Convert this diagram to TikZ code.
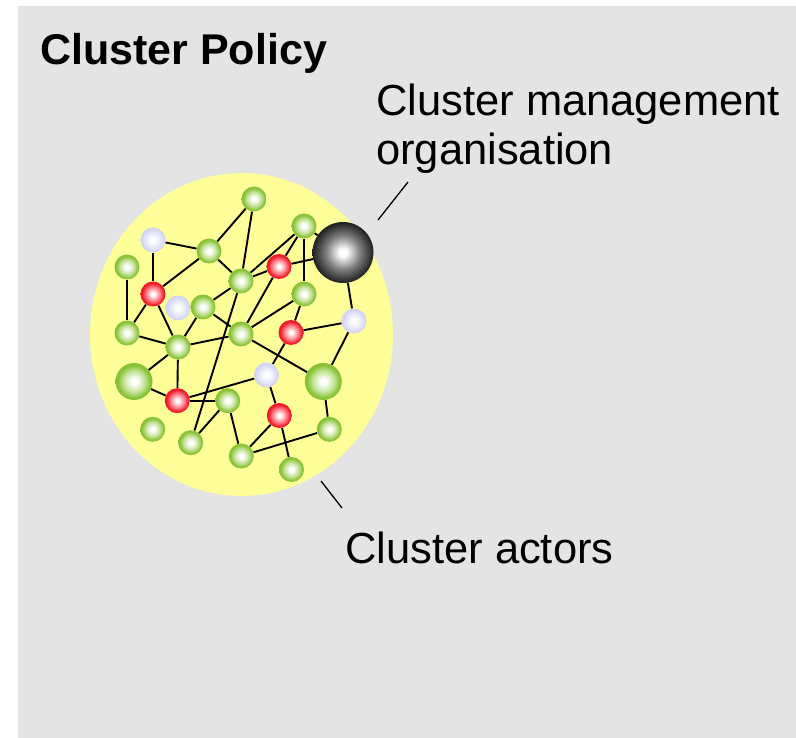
\documentclass[tikz,border=0pt]{standalone}
\usepackage{fontspec}
\setmainfont{Liberation Sans}
\pgfdeclarelayer{bg}
\pgfdeclarelayer{edges}
\pgfsetlayers{bg,edges,main}
\definecolor{panel}{RGB}{228,228,228}
\definecolor{blob}{RGB}{255,255,153}
\definecolor{grim}{RGB}{136,194,52}
\definecolor{gmid}{RGB}{190,225,145}
\definecolor{rrim}{RGB}{240,25,40}
\definecolor{rmid}{RGB}{255,125,135}
\definecolor{wrim}{RGB}{208,210,242}
\definecolor{wmid}{RGB}{230,231,250}
\definecolor{krim}{RGB}{30,30,30}
\definecolor{kmid}{RGB}{125,125,125}
\pgfdeclareradialshading{gball}{\pgfpoint{0bp}{0bp}}{color(0bp)=(white); color(4bp)=(white); color(15bp)=(gmid); color(22bp)=(grim); color(50bp)=(grim)}
\pgfdeclareradialshading{rball}{\pgfpoint{0bp}{0bp}}{color(0bp)=(white); color(3bp)=(white); color(14bp)=(rmid); color(22bp)=(rrim); color(50bp)=(rrim)}
\pgfdeclareradialshading{wball}{\pgfpoint{0bp}{0bp}}{color(0bp)=(white); color(4bp)=(white); color(15bp)=(wmid); color(24bp)=(wrim); color(50bp)=(wrim)}
\pgfdeclareradialshading{kball}{\pgfpoint{0bp}{0bp}}{color(0bp)=(white); color(3bp)=(white); color(14bp)=(kmid); color(25bp)=(krim); color(50bp)=(krim)}
\tikzset{
  ball/.style={circle, inner sep=0pt, minimum size=25pt, shade},
  gn/.style={ball, shading=gball},
  gbig/.style={ball, shading=gball, minimum size=37pt},
  rn/.style={ball, shading=rball},
  wn/.style={ball, shading=wball},
  kn/.style={ball, shading=kball, minimum size=61pt},
  link/.style={draw=black, line width=1.9pt},
  pointer/.style={draw=black, line width=1.3pt},
  lbl/.style={inner sep=0pt, font=\fontsize{43.5}{49}\selectfont, align=left},
}
\begin{document}
\begin{tikzpicture}[x=1pt,y=-1pt]
\useasboundingbox (0,0) rectangle (796,738);
\begin{pgfonlayer}{bg}
  \fill[panel] (18,6) rectangle (796,738);
  \fill[blob] (241.5,334.5) ellipse [x radius=151.5, y radius=161.5];
\end{pgfonlayer}
% nodes
\node[gn] (n1) at (254,199) {};
\node[wn] (n2) at (153,240) {};
\node[gn] (n3) at (209,251) {};
\node[gn] (n4) at (304,226) {};
\node[gn] (n6) at (127,267) {};
\node[rn] (n7) at (279,266.5) {};
\node[gn] (n8) at (241,281) {};
\node[rn] (n9) at (153,294) {};
\node[gn] (n11) at (203,307) {};
\node[wn] (n10) at (178,308) {};
\node[gn] (n12) at (304,294) {};
\node[wn] (n13) at (354,321) {};
\node[rn] (n14) at (291,332.5) {};
\node[gn] (n15) at (127,333) {};
\node[gn] (n16) at (241,334) {};
\node[gn] (n17) at (178,347) {};
\node[gbig] (n18) at (134,381.5) {};
\node[wn] (n19) at (266.5,375) {};
\node[gbig] (n20) at (323.3,381.5) {};
\node[rn] (n21) at (177.3,400.7) {};
\node[gn] (n22) at (227.7,400.7) {};
\node[rn] (n23) at (279.3,415.5) {};
\node[gn] (n24) at (152.7,429.3) {};
\node[gn] (n25) at (190.7,442.7) {};
\node[gn] (n26) at (329.3,429.3) {};
\node[gn] (n27) at (241.3,456) {};
\node[gn] (n28) at (291.5,469.5) {};
\node[kn] (mgmt) at (343,252.5) {};
% links
\begin{pgfonlayer}{edges}
\draw[link] (n1) -- (n3);
\draw[link] (n1) -- (n8);
\draw[link] (n2) -- (n3);
\draw[link] (n2) -- (n9);
\draw[link] (n3) -- (n9);
\draw[link] (n3) -- (n8);
\draw[link] (n4) -- (n8);
\draw[link] (n4) -- (n7);
\draw[link] (n4) -- (n12);
\draw[link] (n4) -- (mgmt);
\draw[link] (n7) -- (mgmt);
\draw[link] (mgmt) -- (n13);
\draw[link] (n7) -- (n8);
\draw[link] (n7) -- (n16);
\draw[link] (n6) -- (n15);
\draw[link] (n9) -- (n15);
\draw[link] (n9) -- (n17);
\draw[link] (n11) -- (n17);
\draw[link] (n11) -- (n8);
\draw[link] (n11) -- (n16);
\draw[link] (n8) -- (n25);
\draw[link] (n15) -- (n17);
\draw[link] (n17) -- (n16);
\draw[link] (n17) -- (n18);
\draw[link] (n17) -- (n21);
\draw[link] (n18) -- (n21);
\draw[link] (n21) -- (n22);
\draw[link] (n21) -- (n19);
\draw[link] (n16) -- (n12);
\draw[link] (n16) -- (n20);
\draw[link] (n14) -- (n13);
\draw[link] (n14) -- (n19);
\draw[link] (n12) -- (n14);
\draw[link] (n13) -- (n20);
\draw[link] (n19) -- (n23);
\draw[link] (n20) -- (n26);
\draw[link] (n22) -- (n25);
\draw[link] (n22) -- (n27);
\draw[link] (n23) -- (n27);
\draw[link] (n23) -- (n28);
\draw[link] (n27) -- (n26);
\end{pgfonlayer}
% labels
\node[lbl, anchor=base west, font=\fontsize{43}{49}\selectfont\bfseries] (title) at (40,65) {Cluster Policy};
\node[lbl, anchor=north west] (mlabel) at (376,84) {Cluster management\\organisation};
\node[lbl, anchor=base west] (alabel) at (345,563) {Cluster actors};
\coordinate (mA) at (378,220);
\coordinate (mB) at (408,182);
\coordinate (aA) at (321,481);
\coordinate (aB) at (342,508);
\draw[pointer] (mA) -- (mB);
\draw[pointer] (aA) -- (aB);
\end{tikzpicture}
\end{document}
